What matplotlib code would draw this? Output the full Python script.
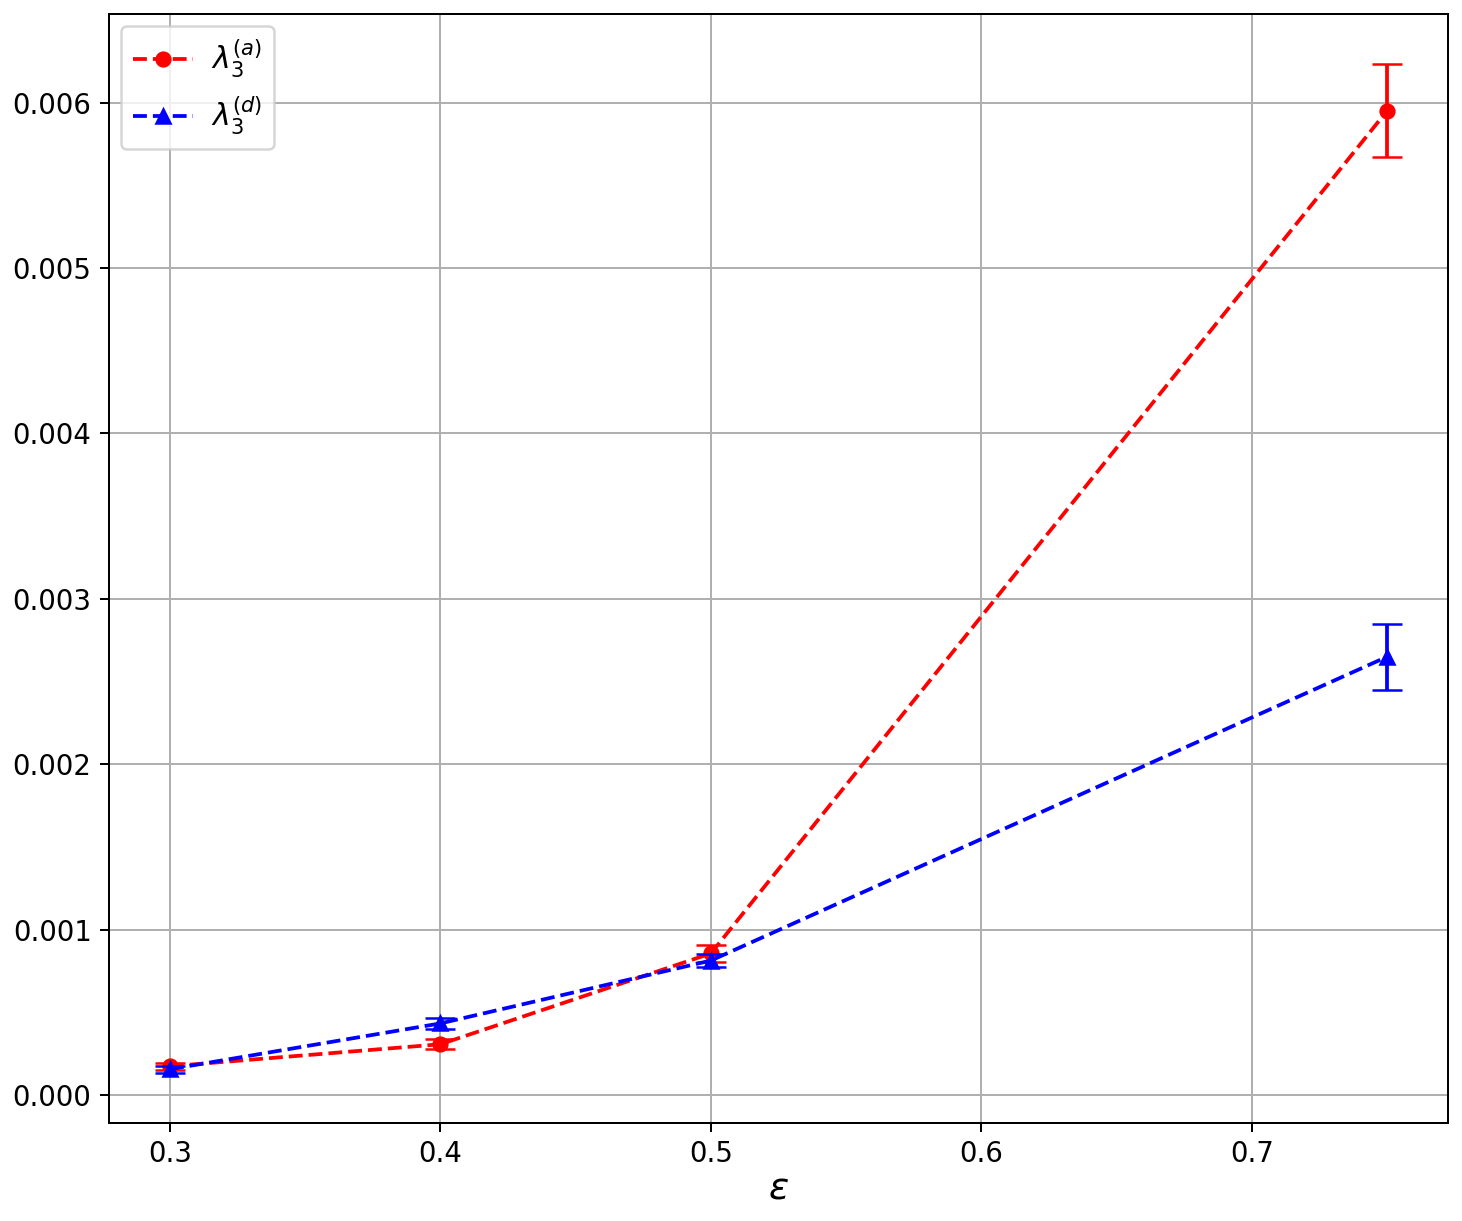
import matplotlib
matplotlib.use('Agg')
import matplotlib.pyplot as plt
import numpy as np

# epsilon values
eps = [0.3, 0.4, 0.5, 0.75]

# lambda_3 (a)
lam_a = [0.000175, 0.000308, 0.000857, 0.00595]
err_a = [0.00002, 0.00003, 0.00005, 0.00028]

# lambda_3 (d)
lam_d = [0.000157, 0.000434, 0.000814, 0.00265]
err_d = [0.00002, 0.000035, 0.00004, 0.0002]

fig = plt.figure(figsize=(1462 / 180, 1221 / 180), dpi=180)
ax = fig.add_axes([0.0746, 0.0803, 0.9158, 0.9082])

ax.plot(eps, lam_a, '--o', color='red', markersize=5.5, label=r'$\lambda_3^{(a)}$')
ax.errorbar(eps, lam_a, yerr=err_a, fmt='none', ecolor='red', capsize=6)
ax.plot(eps, lam_d, '--^', color='blue', markersize=5.5, label=r'$\lambda_3^{(d)}$')
ax.errorbar(eps, lam_d, yerr=err_d, fmt='none', ecolor='blue', capsize=6)

ax.set_xlabel(r'$\varepsilon$', fontsize=15, labelpad=1)
ax.tick_params(labelsize=11)
ax.grid(True)
ax.legend(loc='upper left', fontsize=12, borderaxespad=0.4, handletextpad=0.6)

fig.savefig('out.png', dpi=180)
